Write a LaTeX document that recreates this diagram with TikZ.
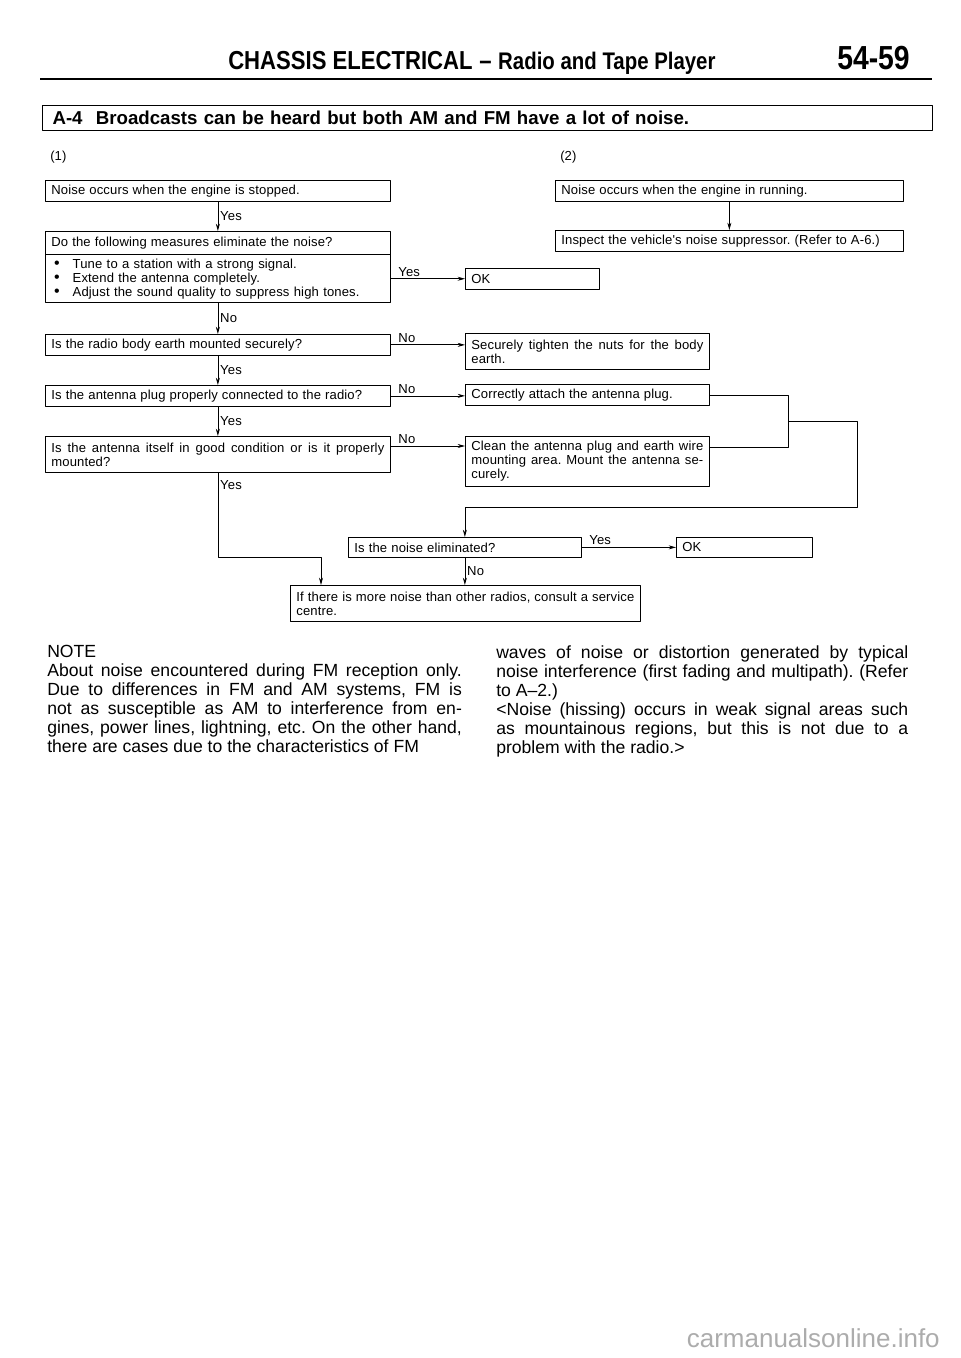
\documentclass[tikz,border=0pt]{standalone}
\usepackage{fontspec}
\setmainfont{Liberation Sans}
\newfontfamily\boxfont[LetterSpace=1,WordSpace=1.1]{Liberation Sans}
\newfontfamily\headfont[FakeStretch=0.85]{Liberation Sans}
\usetikzlibrary{arrows.meta,calc,positioning}
\frenchspacing

\begin{document}
\begin{tikzpicture}[x=0.75pt,y=-0.75pt,line join=round,
  font=\boxfont\fontsize{9.8}{10.5}\selectfont\frenchspacing,
  >={Stealth[length=5.5pt,width=3pt]},
  box/.style={draw,line width=0.55pt,anchor=north west,inner xsep=4.5pt,
    inner ysep=0pt,minimum height=15.75pt,align=justify},
  lbox/.style={box,text width=249.75pt},
  rbox/.style={box,text width=174pt},
  lbl/.style={inner sep=1.5pt},
  flow/.style={line width=0.55pt},
  note/.style={anchor=north west,inner sep=0pt,align=justify,
    font=\normalfont\fontsize{13.2}{14.25}\selectfont\frenchspacing}]

  \useasboundingbox (0,0) rectangle (960,1358);

  %% ---------------------------------------------------------------
  %% page header
  %% ---------------------------------------------------------------
  \node[anchor=base west,inner sep=0pt] (title) at (228,70)
    {\headfont\bfseries\fontsize{19.5}{19.5}\selectfont CHASSIS ELECTRICAL\hspace{5pt}\textendash\hspace{5pt}%
     {\fontsize{18}{18}\selectfont Radio and Tape Player}};
  \node[anchor=base east,inner sep=0pt] (page) at (910,70)
    {\headfont\bfseries\fontsize{25}{25}\selectfont 54-59};
  \draw[line width=2pt] (40,79) -- (932,79);
  % symptom bar
  \node[draw,line width=0.8pt,anchor=north west,minimum height=18.75pt,
    text width=652.5pt,inner xsep=7.5pt,inner ysep=0pt,align=left,
    font=\normalfont\bfseries\fontsize{14}{15}\selectfont] (A4) at (42,105)
    {A-4\hspace{10pt}Broadcasts can be heard but both AM and FM have a lot of noise.};
  \node[anchor=west,inner sep=0pt] (col1) at (50,157) {(1)};
  \node[anchor=west,inner sep=0pt] (col2) at (560,157) {(2)};

  %% ---------------------------------------------------------------
  %% column (1): engine stopped
  %% ---------------------------------------------------------------
  \node[lbox] (B1) at (45,180) {Noise occurs when the engine is stopped.};
  \node[lbox,minimum height=17pt] (B2) at (45,231)
    {Do the following measures eliminate the noise?};
  \node[lbox,below=0pt of B2,minimum height=36pt,align=left] (B2b)
    {\hspace*{2pt}\makebox[14pt][l]{\fontsize{12}{10}\selectfont\textbullet}Tune to a station with a strong signal.\\
     \hspace*{2pt}\makebox[14pt][l]{\fontsize{12}{10}\selectfont\textbullet}Extend the antenna completely.\\
     \hspace*{2pt}\makebox[14pt][l]{\fontsize{12}{10}\selectfont\textbullet}Adjust the sound quality to suppress high tones.};
  \node[lbox] (B3) at (45,334) {Is the radio body earth mounted securely?};
  \node[lbox] (B4) at (45,385) {Is the antenna plug properly connected to the radio?};
  \node[lbox,minimum height=27pt] (B5) at (45,436)
    {Is the antenna itself in good condition or is it properly\linebreak mounted?};

  % repairs
  \node[box,text width=91.5pt] (OK1) at (465,268) {OK};
  \node[rbox,minimum height=27pt] (S1) at (465,333)
    {Securely tighten the nuts for the body\linebreak earth.};
  \node[rbox] (S2) at (465,384) {Correctly attach the antenna plug.};
  \node[rbox,minimum height=37.5pt] (S3) at (465,436)
    {Clean the antenna plug and earth wire\linebreak mounting area. Mount the antenna se-\linebreak curely.};

  % final check
  \node[box,text width=165.75pt,minimum height=15pt] (NE) at (348,537)
    {Is the noise eliminated?};
  \node[box,text width=93pt,minimum height=15pt] (OK2) at (676,537) {OK};
  \node[box,text width=253.5pt,minimum height=27pt] (F) at (290,585)
    {If there is more noise than other radios, consult a service\linebreak centre.};

  % connectors
  \draw[flow,->] (B1.south) -- node[lbl,right] {Yes} (B2.north);
  \draw[flow,->] (B2b.south) -- node[lbl,right] {No} (B3.north);
  \draw[flow,->] (B3.south) -- node[lbl,right] {Yes} (B4.north);
  \draw[flow,->] (B4.south) -- node[lbl,right] {Yes} (B5.north);
  \draw[flow,->] (B2b.east) -- node[lbl,pos=0,anchor=south west,xshift=4pt] {Yes}
    (B2b.east -| OK1.west);
  \draw[flow,->] (B3.east) -- node[lbl,pos=0,anchor=south west,xshift=4pt] {No}
    (B3.east -| S1.west);
  \draw[flow,->] (B4.east) -- node[lbl,pos=0,anchor=south west,xshift=4pt] {No}
    (B4.east -| S2.west);
  \coordinate (B5e) at ($(B5.north east)+(0,10)$);
  \draw[flow,->] (B5e) -- node[lbl,pos=0,anchor=south west,xshift=4pt] {No}
    (B5e -| S3.west);
  \draw[flow,->] (B5.south) -- node[lbl,pos=0,anchor=north west,yshift=-4pt] {Yes}
    (B5.south |- NE.south) -| ($(F.north west)+(31,0)$);

  % repairs join and return to the check
  \coordinate (S3e) at ($(S3.north east)+(0,11)$);
  \draw[flow] (S2.east) -- ++(79,0) coordinate (J1) -- (J1 |- S3e) -- (S3e);
  \coordinate (J) at ($(J1)+(0,26.5)$);
  \draw[flow,->] (J) -- ++(69,0) |- ($(NE.north)+(0,-30)$) -- (NE.north);
  \draw[flow,->] (NE.east) -- node[lbl,pos=0,anchor=south west,xshift=4pt] {Yes}
    (NE.east -| OK2.west);
  \draw[flow,->] (NE.south) -- node[lbl,right] {No} (NE.south |- F.north);

  %% ---------------------------------------------------------------
  %% column (2): engine running
  %% ---------------------------------------------------------------
  \node[box,text width=252pt] (R1) at (555,180) {Noise occurs when the engine in running.};
  \node[box,text width=252pt] (R2) at (555,230)
    {Inspect the vehicle's noise suppressor. (Refer to A-6.)};
  \draw[flow,->] (R1.south) -- (R2.north);

  %% ---------------------------------------------------------------
  %% note
  %% ---------------------------------------------------------------
  \node[note,text width=311pt] (noteL) at (47,645)
    {\parfillskip=0pt\relax NOTE\\
     About noise encountered during FM reception only.\linebreak
     Due to differences in FM and AM systems, FM is\linebreak
     not as susceptible as AM to interference from en-\linebreak
     gines, power lines, lightning, etc. On the other hand,\linebreak
     there are cases due to the characteristics of FM};
  \node[note,text width=309pt] (noteR) at (496,645)
    {\hyphenpenalty=10000\relax waves of noise or distortion generated by typical\linebreak
     noise interference (first fading and multipath). (Refer\linebreak
     to A--2.)\\
     <Noise (hissing) occurs in weak signal areas such\linebreak
     as mountainous regions, but this is not due to a\linebreak
     problem with the radio.>};

  \node[anchor=base east,inner sep=0pt,text=gray!65,
    font=\normalfont\fontsize{19.5}{20}\selectfont] (wm) at (940,1347)
    {carmanualsonline.info};
\end{tikzpicture}
\end{document}
